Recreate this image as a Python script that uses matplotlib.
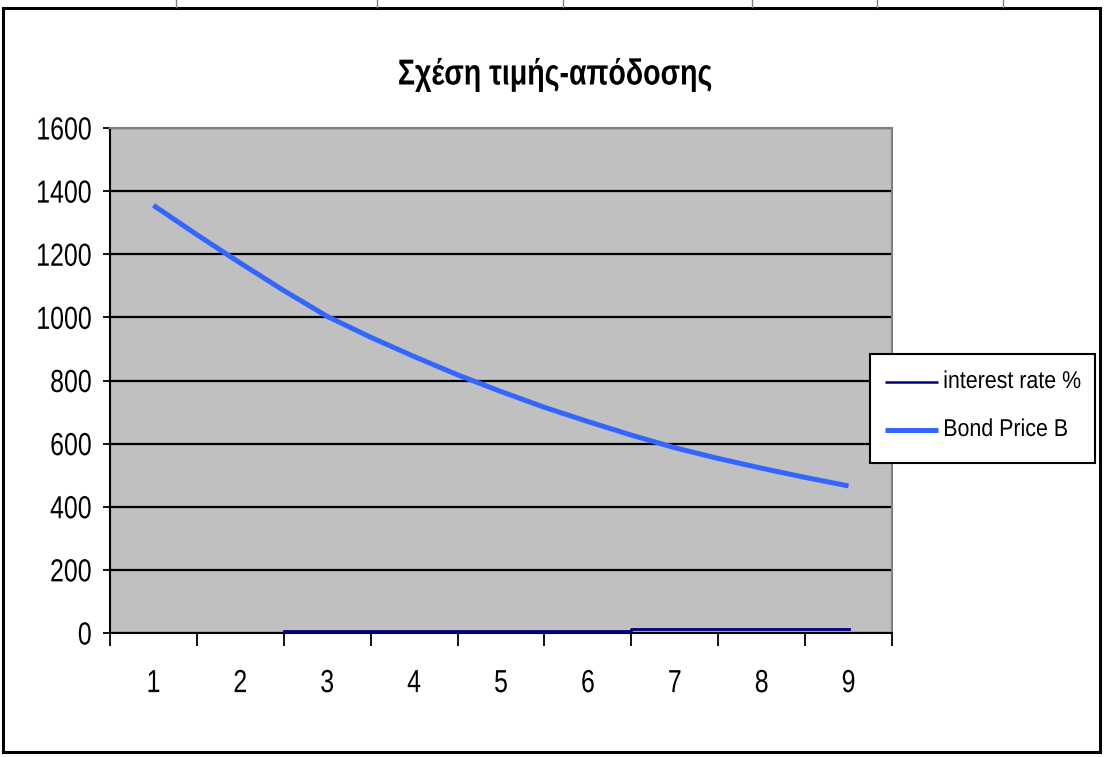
import matplotlib
matplotlib.use("Agg")
import matplotlib.pyplot as plt
from matplotlib.patches import Rectangle
from matplotlib.lines import Line2D
from matplotlib.patheffects import AbstractPathEffect
from matplotlib.transforms import Affine2D

# ---- data ----
categories = [1, 2, 3, 4, 5, 6, 7, 8, 9]
tick_labels = ["1", "2", "3", "4", "5", "6", "7", "8", "9"]
bond_x = [1, 1.5, 2, 2.5, 3, 3.5, 4, 4.5, 5, 5.5, 6, 6.5, 7, 7.5, 8, 8.5, 9]
bond_price = [1355, 1262, 1172, 1085, 1003, 937, 876, 818, 765, 715, 670, 627, 587, 553, 522, 493, 466]
rate_x = [2.5, 6.5, 6.5, 9]
rate_pct = [5, 5, 12, 12]
y_ticks = [0, 200, 400, 600, 800, 1000, 1200, 1400, 1600]
series_names = ["interest rate %", "Bond Price B"]
title = "Σχέση τιμής-απόδοσης"

plt.rcParams["font.family"] = ["Liberation Sans", "DejaVu Sans"]


class Squeeze(AbstractPathEffect):
    """Narrow the glyphs horizontally (the reference uses a condensed face)."""

    def __init__(self, sx=0.78, anchor="center"):
        super().__init__()
        self.sx = sx
        self.anchor = anchor

    def draw_path(self, renderer, gc, tpath, affine, rgbFace=None):
        ext = tpath.get_extents()
        if self.anchor == "left":
            p = ext.x0
        elif self.anchor == "right":
            p = ext.x1
        else:
            p = 0.5 * (ext.x0 + ext.x1)
        t = Affine2D().translate(-p, 0).scale(self.sx, 1).translate(p, 0) + affine
        renderer.draw_path(gc, tpath, t, rgbFace)


W, H = 1105, 757
fig = plt.figure(figsize=(W / 100, H / 100), dpi=100)
fig.patch.set_facecolor("white")


def fx(px):
    return px / W


def fy(py):
    return 1 - py / H


# spreadsheet remnants above the chart frame
for xv in [176, 377, 563, 752, 877, 1003]:
    fig.add_artist(Line2D([fx(xv), fx(xv)], [fy(0), fy(7)], color="#808080", lw=1))
# chart frame
fig.add_artist(Rectangle((fx(3), fy(752)), 1097 / W, 744 / H, fill=False,
                         edgecolor="black", lw=2.2, transform=fig.transFigure))

left, right, top, bottom = 110, 892, 128, 633
ax = fig.add_axes([fx(left), fy(bottom), (right - left) / W, (bottom - top) / H])
ax.set_facecolor("#C0C0C0")
ax.set_xlim(0.5, 9.5)
ax.set_ylim(0, 1600)

for s in ["top", "right"]:
    ax.spines[s].set_color("#808080")
    ax.spines[s].set_linewidth(1.5)
for s in ["left", "bottom"]:
    ax.spines[s].set_color("black")
    ax.spines[s].set_linewidth(1.5)

ax.set_yticks(y_ticks)
ax.set_yticklabels([str(v) for v in y_ticks], fontsize=23)
ax.yaxis.grid(True, color="black", lw=1.6)
ax.set_axisbelow(True)
ax.tick_params(axis="y", direction="out", length=5, width=1.3, pad=8, colors="black")

bounds = [c - 0.5 for c in categories] + [categories[-1] + 0.5]
ax.set_xticks(bounds)
ax.set_xticklabels([""] * len(bounds))
ax.set_xticks(categories, minor=True)
ax.set_xticklabels(tick_labels, minor=True, fontsize=23)
ax.tick_params(axis="x", which="major", direction="out", length=9, width=1.3)
ax.tick_params(axis="x", which="minor", length=0, pad=26)

ax.plot(rate_x, rate_pct, color="#000080", lw=2.0, label=series_names[0], zorder=3)
ax.plot(bond_x, bond_price, color="#3366FF", lw=3.6, label=series_names[1],
        solid_joinstyle="round", solid_capstyle="butt", zorder=4)

for lbl in ax.get_yticklabels():
    lbl.set_path_effects([Squeeze(0.78, "right")])
for lbl in ax.get_xticklabels(minor=True):
    lbl.set_path_effects([Squeeze(0.78, "center")])

fig.text(fx(555), fy(75), title, ha="center", va="center",
         fontsize=26, fontweight="bold", path_effects=[Squeeze(0.79, "center")])

# legend box (drawn by hand so the condensed labels fit the same box)
fig.add_artist(Rectangle((fx(870), fy(463)), 225 / W, 109 / H, facecolor="white",
                         edgecolor="black", lw=1.5, transform=fig.transFigure, zorder=5))
legend_rows = [(382, "#000080", 1.8), (430, "#3366FF", 3.6)]
for (yy, col, lw), name in zip(legend_rows, series_names):
    fig.add_artist(Line2D([fx(885), fx(938)], [fy(yy), fy(yy)], color=col, lw=lw,
                          solid_capstyle="butt", zorder=6))
    fig.text(fx(943), fy(yy), name, ha="left", va="center", fontsize=17.5, zorder=6,
             path_effects=[Squeeze(0.88, "left")])

fig.savefig("out.png", dpi=100, facecolor="white")
